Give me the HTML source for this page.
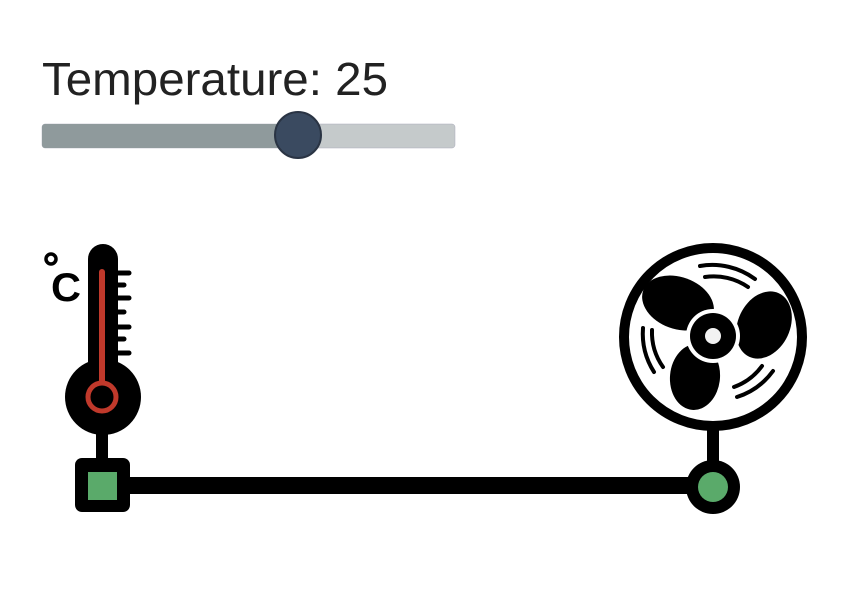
<!DOCTYPE html>
<html><head><style>html,body{margin:0;padding:0;background:#fff;width:850px;height:616px;overflow:hidden}</style></head>
<body>
<svg width="850" height="616" viewBox="0 0 850 616" xmlns="http://www.w3.org/2000/svg">
<text x="42" y="95" font-family="Liberation Sans, sans-serif" font-size="46" font-weight="300" fill="#222" textLength="346" lengthAdjust="spacingAndGlyphs">Temperature: 25</text>
<rect x="42" y="124" width="413" height="24" rx="3" fill="#c5cacb" stroke="#aab" stroke-width="0.5"/>
<rect x="42" y="124" width="256" height="24" rx="3" fill="#8f9a9c"/>
<circle cx="298" cy="135" r="23" fill="#3a4a60" stroke="#2a3444" stroke-width="2"/>
<!-- connector -->
<rect x="125" y="477" width="570" height="17" fill="#000"/>
<!-- thermometer -->
<text x="51" y="301" font-family="Liberation Sans, sans-serif" font-size="40" font-weight="bold" fill="#000" textLength="30" lengthAdjust="spacingAndGlyphs">C</text>
<circle cx="51" cy="259" r="5" fill="none" stroke="#000" stroke-width="3.5"/>
<rect x="88" y="244" width="30" height="160" rx="15" fill="#000"/>
<circle cx="103" cy="397" r="38" fill="#000"/>
<g stroke="#000" stroke-width="5" stroke-linecap="round">
<line x1="117" y1="273" x2="129" y2="273"/><line x1="117" y1="285" x2="124" y2="285"/>
<line x1="117" y1="298" x2="129" y2="298"/><line x1="117" y1="312" x2="124" y2="312"/>
<line x1="117" y1="327" x2="129" y2="327"/><line x1="117" y1="339" x2="124" y2="339"/>
<line x1="117" y1="353" x2="129" y2="353"/></g>
<line x1="102" y1="272" x2="102" y2="385" stroke="#c0392b" stroke-width="6" stroke-linecap="round"/>
<circle cx="102" cy="397" r="14" fill="#000" stroke="#c0392b" stroke-width="5"/>
<rect x="96" y="430" width="12" height="35" fill="#000"/>
<rect x="75" y="458" width="55" height="54" rx="7" fill="#000"/>
<rect x="88" y="472" width="29" height="28" fill="#5aaa6a"/>
<!-- fan -->
<circle cx="713" cy="337" r="89" fill="#fff" stroke="#000" stroke-width="10"/>
<rect x="707" y="425" width="12" height="40" fill="#000"/>
<circle cx="713" cy="487" r="27" fill="#000"/>
<circle cx="713" cy="487" r="15" fill="#5aaa6a"/>
<ellipse cx="678" cy="303" rx="37" ry="26" transform="rotate(20 678 303)" fill="#000"/>
<ellipse cx="764" cy="325" rx="35" ry="26" transform="rotate(-65 764 325)" fill="#000"/>
<ellipse cx="695" cy="377" rx="33" ry="25" transform="rotate(95 695 377)" fill="#000"/>
<circle cx="713" cy="336" r="27" fill="#fff"/>
<circle cx="713" cy="336" r="23" fill="#000"/>
<circle cx="713" cy="336" r="8" fill="#f2f2f2"/>
<g fill="none" stroke="#000" stroke-width="4" stroke-linecap="round">
<path d="M700 266 A72 72 0 0 1 755 279"/>
<path d="M705 277 A60 60 0 0 1 748 287"/>
<path d="M643 328 A72 72 0 0 0 654 372"/>
<path d="M652 330 A60 60 0 0 0 663 367"/>
<path d="M773 371 A72 72 0 0 1 737 397"/>
<path d="M762 366 A60 60 0 0 1 734 387"/>
</g>
</svg>
</body></html>
